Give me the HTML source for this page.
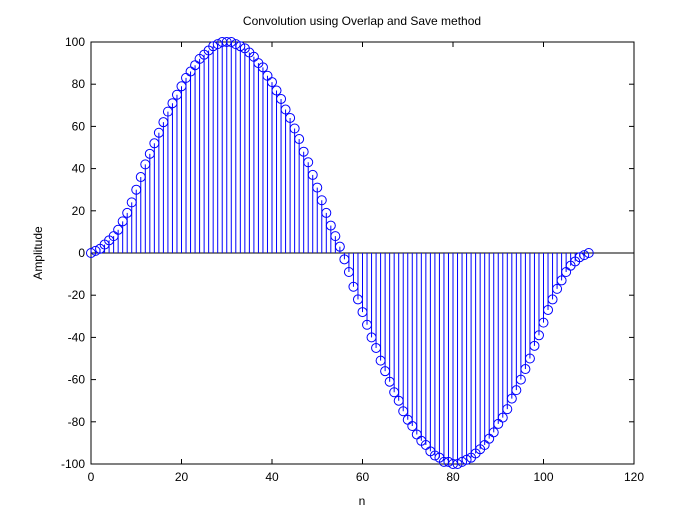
<!DOCTYPE html>
<html><head><meta charset="utf-8"><style>
body{margin:0;background:#fff;}
svg text{font-family:"Liberation Sans",sans-serif;font-size:12px;fill:#000;}
</style></head><body>
<svg id="chart" width="700" height="524" viewBox="0 0 700 524" xmlns="http://www.w3.org/2000/svg">
<rect x="0" y="0" width="700" height="524" fill="#fff"/>
<rect x="91" y="42" width="543" height="422" fill="#fff" stroke="#000" stroke-width="1"/>
<text x="362" y="25" text-anchor="middle">Convolution using Overlap and Save method</text>
<text x="362" y="505" text-anchor="middle">n</text>
<text x="42" y="253" text-anchor="middle" transform="rotate(-90 42 253)">Amplitude</text>
<g id="axes"></g>
<g id="marks"></g>
</svg>
<script>
const amplitudes = [0,1,2,4,6,8,11,15,19,24,30,36,42,47,52,57,62,67,71,75,79,83,86,89,92,94,96,98,99,100,100,100,99,98,97,95,93,90,88,84,81,77,73,68,64,59,54,48,43,37,31,25,19,13,8,3,-3,-9,-16,-22,-28,-34,-40,-45,-51,-56,-61,-66,-70,-75,-79,-82,-86,-89,-91,-94,-96,-97,-99,-99,-100,-100,-99,-98,-97,-95,-93,-91,-88,-85,-81,-78,-74,-69,-65,-60,-55,-50,-44,-39,-33,-27,-22,-17,-13,-9,-6,-4,-2,-1,0];
const xTicks = [0,20,40,60,80,100,120];
const yTicks = [-100,-80,-60,-40,-20,0,20,40,60,80,100];

const L=91,R=634,T=42,B=464;
const xs = v => L + (v-0)/(120-0)*(R-L);
const ys = v => B - (v+100)/200*(B-T);
const NS="http://www.w3.org/2000/svg";
const axes=document.getElementById('axes'), marks=document.getElementById('marks');
function mk(tag,attrs,parent){const e=document.createElementNS(NS,tag);for(const k in attrs)e.setAttribute(k,attrs[k]);parent.appendChild(e);return e;}

xTicks.forEach(t=>{
  const x=xs(t);
  const a=mk('line',{x1:x,x2:x,y1:B,y2:B-5,stroke:'#000'},axes);
  
  
  const b=mk('line',{x1:x,x2:x,y1:T,y2:T+5,stroke:'#000'},axes);
  
  
  const tx=mk('text',{x:x,y:B+17,'text-anchor':'middle'},axes);
  tx.textContent=t;
  
  
});
yTicks.forEach(t=>{
  const y=ys(t);
  const a=mk('line',{x1:L,x2:L+5,y1:y,y2:y,stroke:'#000'},axes);
  
  
  const b=mk('line',{x1:R,x2:R-5,y1:y,y2:y,stroke:'#000'},axes);
  
  
  const tx=mk('text',{x:L-6,y:y+4,'text-anchor':'end'},axes);
  tx.textContent=t;
  
  
});
const base=mk('line',{x1:L,x2:R,y1:ys(0),y2:ys(0),stroke:'#000'},marks);


amplitudes.forEach((v,i)=>{
  const x=xs(i), y=ys(v);
  const s=mk('line',{x1:x,x2:x,y1:ys(0),y2:y,stroke:'#0000ff','stroke-width':1},marks);
  
  
  const c=mk('circle',{cx:x,cy:y,r:4.5,fill:'none',stroke:'#0000ff','stroke-width':1},marks);
  
  
});
</script>
</body></html>
